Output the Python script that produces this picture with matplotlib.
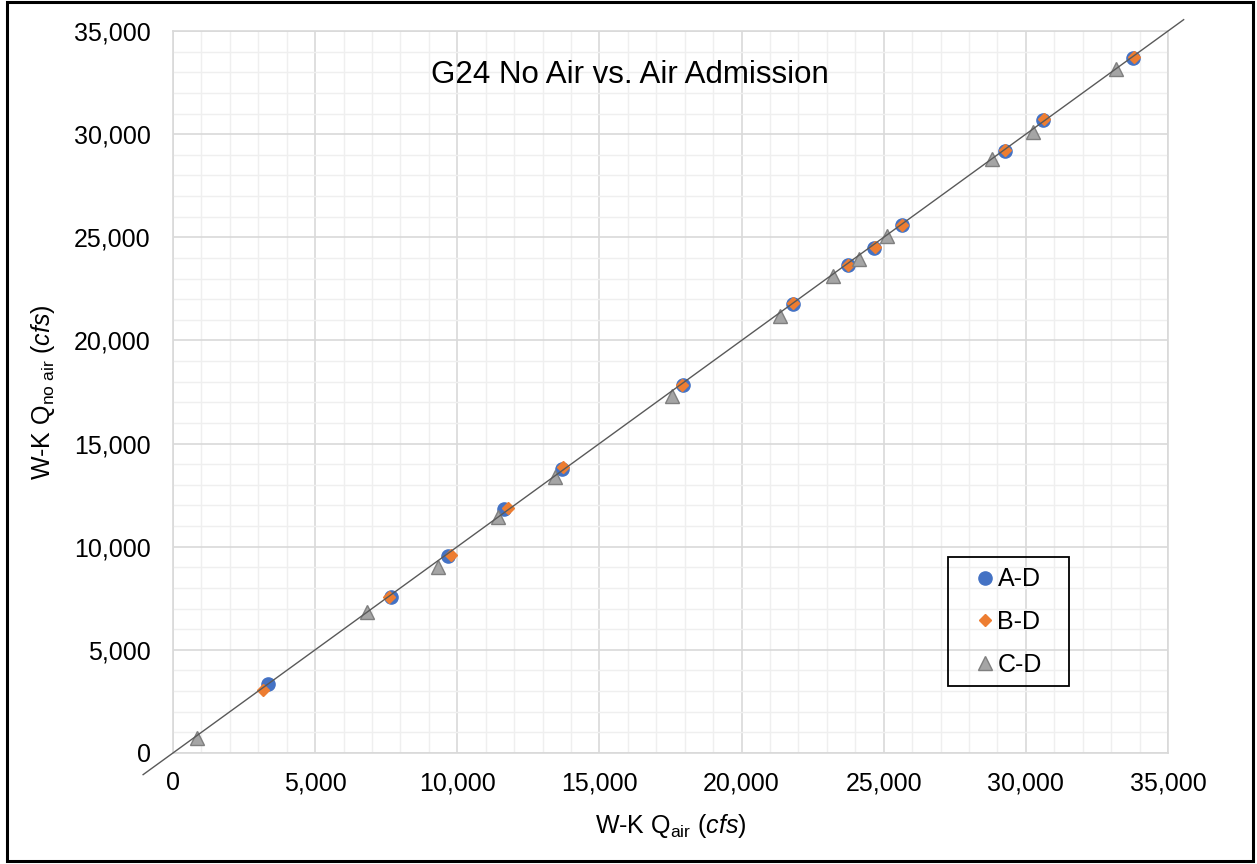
import matplotlib
matplotlib.use("Agg")
import matplotlib.pyplot as plt
from matplotlib.ticker import FuncFormatter, MultipleLocator
from matplotlib.patches import Rectangle

plt.rcParams["font.family"] = ["Liberation Sans", "DejaVu Sans"]
plt.rcParams["mathtext.fontset"] = "custom"
plt.rcParams["mathtext.rm"] = "Liberation Sans"
plt.rcParams["mathtext.it"] = "Liberation Sans:italic"

# W-K discharge (cfs): air admission vs. no air
ad_air = [3340, 7670, 9670, 11640, 13680, 17940, 21800, 23740, 24660, 25640, 29260, 30600, 33770]
ad_noair = [3340, 7550, 9540, 11810, 13790, 17860, 21780, 23670, 24490, 25600, 29190, 30690, 33690]
bd_air = [3170, 7600, 9780, 11780, 13720, 17900, 21820, 23760, 24680, 25660, 29280, 30650, 33800]
bd_noair = [3050, 7580, 9580, 11900, 13880, 17850, 21800, 23680, 24520, 25610, 29210, 30720, 33720]
cd_air = [840, 6820, 9320, 11430, 13440, 17550, 21350, 23210, 24130, 25100, 28800, 30250, 33170]
cd_noair = [730, 6820, 9000, 11420, 13360, 17330, 21200, 23140, 23960, 25070, 28800, 30100, 33160]
series_names = ["A-D", "B-D", "C-D"]
line_ends = [-1050, 35550]
axis_max = 35000

fig = plt.figure(figsize=(12.57, 8.64), dpi=100)
ax = fig.add_axes([0.1376, 0.1285, 0.7916, 0.8356])

ax.plot(ad_air, ad_noair, "o", color="#4472C4", ms=9.5, mec="#4472C4", label=series_names[0], zorder=3)
ax.plot(bd_air, bd_noair, "D", color="#ED7D31", ms=6.0, mec="#ED7D31", label=series_names[1], zorder=4)
ax.plot(cd_air, cd_noair, "^", color="#A5A5A5", ms=10.5, mec="#7F7F7F", mew=1.0, label=series_names[2], zorder=5)

# 1:1 reference line
ax.plot(line_ends, line_ends, color="#595959", lw=1.0, zorder=6, clip_on=False)

ax.set_xlim(0, axis_max)
ax.set_ylim(0, axis_max)
ax.xaxis.set_major_locator(MultipleLocator(5000))
ax.yaxis.set_major_locator(MultipleLocator(5000))
ax.xaxis.set_minor_locator(MultipleLocator(1000))
ax.yaxis.set_minor_locator(MultipleLocator(1000))
fmt = FuncFormatter(lambda v, p: f"{int(v):,}")
ax.xaxis.set_major_formatter(fmt)
ax.yaxis.set_major_formatter(fmt)
ax.grid(which="major", color="#D9D9D9", lw=1.2)
ax.grid(which="minor", color="#EFEFEF", lw=1.0)
ax.set_axisbelow(True)
ax.tick_params(which="both", length=0, labelsize=18, colors="#000000")
ax.tick_params(axis="x", pad=13)
ax.tick_params(axis="y", pad=16)
for s in ax.spines.values():
    s.set_color("#D9D9D9")
    s.set_linewidth(1.2)

ax.set_xlabel(r"W-K Q$_\mathregular{air}$ ($\it{cfs}$)", fontsize=18, labelpad=12)
ax.set_ylabel(r"W-K Q$_\mathregular{no\ air}$ ($\it{cfs}$)", fontsize=18, labelpad=12)

ax.text(0.459, 0.939, "G24 No Air vs. Air Admission", transform=ax.transAxes,
        ha="center", va="center", fontsize=22.5)

# legend entries without frame, with a separate box around them
leg = ax.legend(loc="center left", bbox_to_anchor=(0.8035, 0.1814), fontsize=18,
                frameon=False, handletextpad=0.0, handlelength=1.0,
                labelspacing=0.75, borderpad=0, borderaxespad=0)
ax.add_patch(Rectangle((0.7789, 0.0928), 0.1216, 0.1787, transform=ax.transAxes,
                       fill=False, edgecolor="#000000", lw=1.3, zorder=7))

fig.patches.append(Rectangle((0.0056, 0.003), 0.9912, 0.9942, transform=fig.transFigure,
                             fill=False, edgecolor="#000000", lw=2.2))

fig.savefig("out.png", dpi=100)
